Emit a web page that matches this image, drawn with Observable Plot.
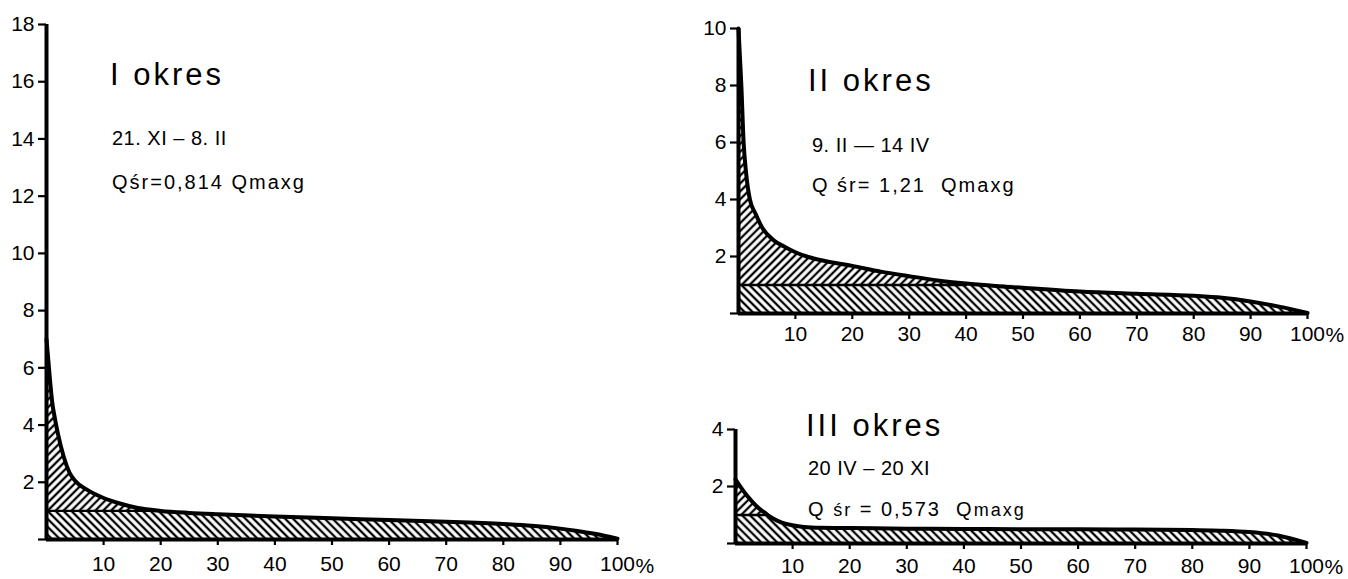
<!DOCTYPE html>
<html><head><meta charset="utf-8">
<script src="https://cdn.jsdelivr.net/npm/d3@7"></script>
<script src="https://cdn.jsdelivr.net/npm/@observablehq/plot@0.6"></script>
<style>
body{margin:0;background:#fff;}
#root{position:relative;width:1348px;height:579px;overflow:hidden;font-family:"Liberation Sans",Arial,sans-serif;color:#000;background:#fff;}
#root svg.chart{position:absolute;overflow:visible;}
#root svg.chart text{font-size:21px;}
.t{position:absolute;white-space:pre;line-height:1;}
.h{font-size:31px;letter-spacing:3px;}
.d{font-size:20px;letter-spacing:0.5px;}
.q{font-size:20px;letter-spacing:2px;}
.sm{font-size:18px;}
</style></head><body>
<div id="root">
<svg width="0" height="0" style="position:absolute">
<defs>
<pattern id="hatchUp" patternUnits="userSpaceOnUse" width="5.6" height="5.6" patternTransform="rotate(45)"><line x1="2.8" y1="-1" x2="2.8" y2="6.6" stroke="#000" stroke-width="2.3"/></pattern>
<pattern id="hatchDown" patternUnits="userSpaceOnUse" width="5.6" height="5.6" patternTransform="rotate(-45)"><line x1="2.8" y1="-1" x2="2.8" y2="6.6" stroke="#000" stroke-width="2.3"/></pattern>
</defs></svg>
</div>
<script>
// ---- data (percent of time exceeded, flow in units of Qmaxg) ----
const xTicks = [10,20,30,40,50,60,70,80,90,100];
const xTickLabels = ["10","20","30","40","50","60","70","80","90","100"];
const pctSign = ["%"];
const limitLevel = [1];

const p1 = [0,0.3,0.6,1,1.5,2,3,4,5,7,10,13,16,20,25,30,40,50,60,70,80,85,90,93,96,100];
const q1 = [7.0,6.3,5.6,4.8,4.2,3.7,2.9,2.35,2.05,1.75,1.45,1.25,1.1,1.0,0.93,0.88,0.8,0.74,0.68,0.62,0.54,0.48,0.38,0.3,0.2,0.03];
const yTicks1 = [0,2,4,6,8,10,12,14,16,18];

const p2 = [0,0.3,0.5,0.9,1.3,2,3,4.2,6,8,10,12,15,20,25,30,35,40,50,60,70,80,85,90,95,100];
const q2 = [10,8.8,8,6,5,4,3.5,3.0,2.6,2.35,2.15,2.0,1.85,1.67,1.47,1.31,1.16,1.05,0.9,0.77,0.69,0.62,0.55,0.42,0.24,0.02];
const yTicks2 = [0,2,4,6,8,10];

const p3 = [0,1,2,3,4,5,6,7,8,10,12,15,20,30,40,50,60,70,80,85,90,95,100];
const q3 = [2.25,1.95,1.68,1.45,1.25,1.1,0.95,0.83,0.74,0.64,0.58,0.55,0.54,0.52,0.51,0.5,0.5,0.49,0.47,0.45,0.4,0.28,0.02];
const yTicks3 = [0,2,4];

const titles = ["I okres","II okres","III okres"];
const dates = ["21. XI – 8. II","9. II — 14 IV","20 IV – 20 XI"];
const means = ["=0,814 ","= 1,21  "," = 0,573  "];

const root = document.getElementById("root");

function chart(ps, qs, yMax, yTicks, layout) {
  const data = ps.map((p,i)=>({p, q: qs[i]}));
  const above = data.filter(d=>d.q >= limitLevel[0]);
  const svg = Plot.plot({
    width: layout.width, height: layout.height,
    marginLeft: layout.ml, marginRight: layout.mr, marginTop: layout.mt, marginBottom: layout.mb,
    style: {background:"transparent", fontFamily:'"Liberation Sans",Arial,sans-serif', fontSize:"21px", color:"#000", overflow:"visible"},
    x: {domain:[0,100], axis:null},
    y: {domain:[0,yMax], axis:null},
    marks: [
      Plot.areaY(data, {x:"p", y1: ()=>limitLevel[0], y2: d=>Math.max(d.q, limitLevel[0]), fill:"url(#hatchUp)", curve:"monotone-x"}),
      Plot.areaY(data, {x:"p", y1: 0, y2: d=>Math.min(d.q, limitLevel[0]), fill:"url(#hatchDown)", curve:"monotone-x"}),
      Plot.lineY(above, {x:"p", y: ()=>limitLevel[0], stroke:"#000", strokeWidth:2.4}),
      Plot.lineY(data, {x:"p", y:"q", stroke:"#000", strokeWidth:4, curve:"monotone-x"}),
      Plot.ruleX([0], {stroke:"#000", strokeWidth:4}),
      Plot.ruleY([0], {stroke:"#000", strokeWidth:4}),
      Plot.axisY({ticks: yTicks, tickSize: 8, tickPadding: 4, strokeWidth: 2.2, fontSize: 21, tickFormat: d => d === 0 ? "" : String(d), label: null}),
      Plot.axisX({ticks: xTicks, tickSize: 6, tickPadding: layout.xpad, strokeWidth: 2.2, fontSize: 21, tickFormat: (d,i) => xTickLabels[i], label: null}),
      Plot.text(pctSign, {x: ()=>100, y: ()=>0, text: d=>d, textAnchor:"start", dx: 18, dy: layout.pdy, fontSize: 21})
    ]
  });
  svg.classList.add("chart");
  svg.style.left = layout.left + "px";
  svg.style.top = layout.top + "px";
  root.appendChild(svg);
}

chart(p1, q1, 18, yTicks1, {left:0, top:0, width:650, height:579, ml:46, mr:33, mt:24, mb:40, xpad:11, pdy:27});
chart(p2, q2, 10, yTicks2, {left:690, top:0, width:658, height:350, ml:48, mr:41, mt:28, mb:37, xpad:7, pdy:22});
chart(p3, q3, 4, yTicks3, {left:690, top:380, width:658, height:199, ml:45, mr:42, mt:49, mb:36, xpad:9, pdy:24});

function addText(cls, html, x, top) {
  const d = document.createElement("div");
  d.className = "t " + cls;
  d.innerHTML = html;
  d.style.left = x + "px";
  d.style.top = top + "px";
  root.appendChild(d);
}
addText("h", titles[0], 110, 59);
addText("d", dates[0], 112, 128);
addText("q", "Qśr" + means[0] + "Qmaxg", 112, 172);

addText("h", titles[1], 808, 65);
addText("d", dates[1], 812, 135);
addText("q", "Q śr" + means[1] + "Qmaxg", 812, 175);

addText("h", titles[2], 806, 410);
addText("d", dates[2], 808, 458);
addText("q", "Q <span class='sm'>śr</span>" + means[2] + "Q<span class='sm'>maxg</span>", 808, 499);
</script>
</body></html>
